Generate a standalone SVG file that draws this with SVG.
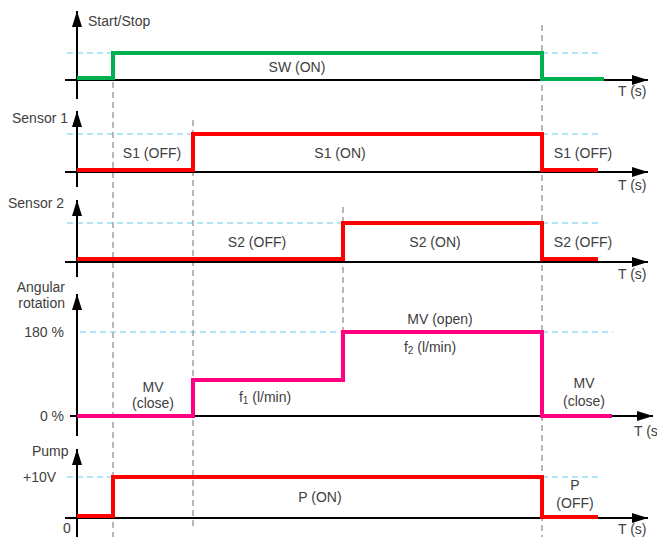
<svg xmlns="http://www.w3.org/2000/svg" width="657" height="537" viewBox="0 0 657 537">
<defs>
<marker id="ahx" viewBox="0 0 16 10" refX="16" refY="5" markerWidth="16" markerHeight="10" markerUnits="userSpaceOnUse" orient="auto"><path d="M0,0 L16,5 L0,10 z" fill="#000"/></marker>
<marker id="ahy" viewBox="0 0 10 16" refX="5" refY="0" markerWidth="10" markerHeight="16" markerUnits="userSpaceOnUse" orient="0"><path d="M5,0 L10,16 L0,16 z" fill="#000"/></marker>
</defs>
<style>
text{font-family:"Liberation Sans",Arial,sans-serif;font-size:14px;fill:#404040}
.m{text-anchor:middle}
.r{text-anchor:end}
.xa{stroke:#000;stroke-width:2;fill:none;marker-end:url(#ahx)}
.ya{stroke:#000;stroke-width:2;fill:none;marker-end:url(#ahy)}
.gd{stroke:#888;stroke-width:1.2;stroke-dasharray:6,4;fill:none}
.bd{stroke:#66ccee;stroke-width:1.2;stroke-dasharray:6,4;fill:none}
.sg{stroke:#00b050;stroke-width:4;fill:none}
.sr{stroke:#ff0000;stroke-width:4;fill:none}
.sp{stroke:#ff0080;stroke-width:4;fill:none}
</style>
<g id="guides">
<line class="gd" x1="113" y1="82" x2="113" y2="537"/>
<line class="gd" x1="193" y1="120" x2="193" y2="530"/>
<line class="gd" x1="343" y1="207" x2="343" y2="332"/>
<line class="gd" x1="542" y1="25" x2="542" y2="537"/>
</g>
<g id="startstop">
<line class="bd" x1="67" y1="53" x2="113" y2="53"/>
<line class="bd" x1="542" y1="53" x2="602" y2="53"/>
<line class="xa" x1="65" y1="80" x2="648" y2="80"/>
<line class="ya" x1="77" y1="99" x2="77" y2="11"/>
<polyline class="sg" points="77,78 113,78 113,53 542,53 542,79 604,79"/>
<text x="88" y="26">Start/Stop</text>
<text class="m" x="297" y="72">SW (ON)</text>
<text x="618" y="96">T (s)</text>
</g>
<g id="sensor1">
<line class="bd" x1="67" y1="134" x2="193" y2="134"/>
<line class="bd" x1="542" y1="134" x2="602" y2="134"/>
<line class="xa" x1="65" y1="172" x2="648" y2="172"/>
<line class="ya" x1="77" y1="187" x2="77" y2="111"/>
<polyline class="sr" points="77,170 193,170 193,134 542,134 542,170 598,170"/>
<text x="12" y="123">Sensor 1</text>
<text class="m" x="152" y="158">S1 (OFF)</text>
<text class="m" x="340" y="158">S1 (ON)</text>
<text class="m" x="583" y="158">S1 (OFF)</text>
<text x="618" y="190">T (s)</text>
</g>
<g id="sensor2">
<line class="bd" x1="67" y1="223" x2="343" y2="223"/>
<line class="bd" x1="542" y1="223" x2="602" y2="223"/>
<line class="xa" x1="65" y1="262" x2="648" y2="262"/>
<line class="ya" x1="77" y1="277" x2="77" y2="200"/>
<polyline class="sr" points="77,259 343,259 343,223 542,223 542,259 598,259"/>
<text x="8" y="208">Sensor 2</text>
<text class="m" x="257" y="247">S2 (OFF)</text>
<text class="m" x="435" y="247">S2 (ON)</text>
<text class="m" x="583" y="247">S2 (OFF)</text>
<text x="618" y="279">T (s)</text>
</g>
<g id="angular">
<line class="bd" x1="80" y1="332" x2="343" y2="332"/>
<line class="bd" x1="542" y1="332" x2="613" y2="332"/>
<line class="xa" x1="70" y1="416" x2="653" y2="416"/>
<line class="ya" x1="77" y1="436" x2="77" y2="294"/>
<polyline class="sp" points="77,416 193,416 193,380 343,380 343,332 542,332 542,416 612,416"/>
<text class="r" x="65" y="292">Angular</text>
<text class="r" x="65" y="308">rotation</text>
<text class="r" x="64" y="337">180 %</text>
<text class="r" x="64" y="421">0 %</text>
<text class="m" x="153" y="392">MV</text>
<text class="m" x="153" y="408">(close)</text>
<text class="m" x="265" y="402">f<tspan font-size="10" dy="2">1</tspan><tspan dy="-2"> (l/min)</tspan></text>
<text class="m" x="440" y="324">MV (open)</text>
<text class="m" x="430" y="352">f<tspan font-size="10" dy="2">2</tspan><tspan dy="-2"> (l/min)</tspan></text>
<text class="m" x="584" y="388">MV</text>
<text class="m" x="584" y="406">(close)</text>
<text x="634" y="436">T (s</text>
</g>
<g id="pump">
<line class="bd" x1="67" y1="477" x2="113" y2="477"/>
<line class="bd" x1="542" y1="477" x2="602" y2="477"/>
<line class="xa" x1="65" y1="518" x2="648" y2="518"/>
<line class="ya" x1="77" y1="537" x2="77" y2="449"/>
<polyline class="sr" points="77,516 113,516 113,477 542,477 542,517 598,517"/>
<text x="32" y="456">Pump</text>
<text x="23" y="482">+10V</text>
<text x="63" y="533">0</text>
<text class="m" x="320" y="502">P (ON)</text>
<text class="m" x="575" y="490">P</text>
<text class="m" x="575" y="508">(OFF)</text>
<text x="618" y="534">T (s)</text>
</g>
</svg>
